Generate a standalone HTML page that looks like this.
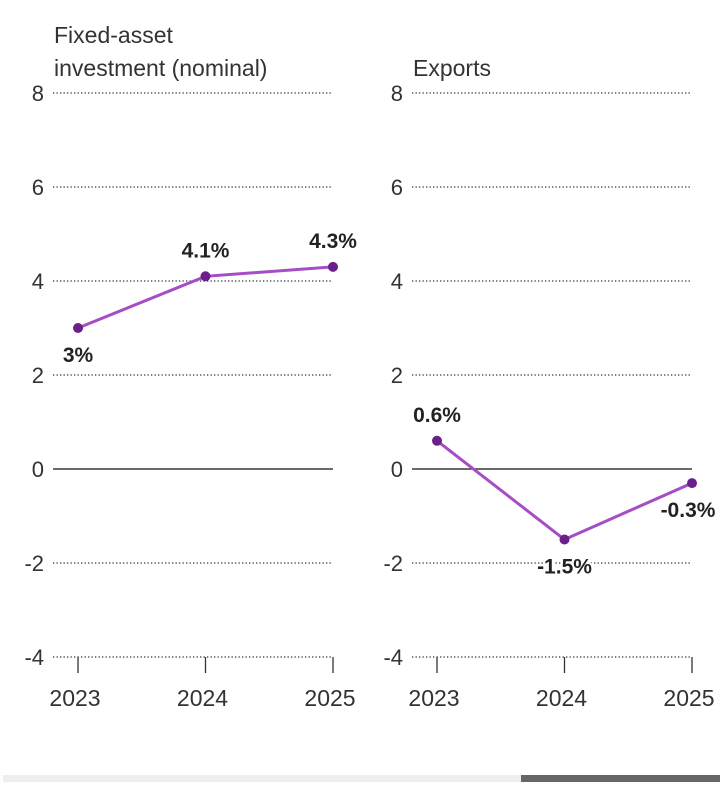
<!DOCTYPE html>
<html><head><meta charset="utf-8">
<style>
body{margin:0;background:#fff;width:721px;height:794px;overflow:hidden;font-family:"Liberation Sans",sans-serif;}
svg{position:absolute;left:0;top:0}
</style></head>
<body>
<svg id="chart" width="721" height="794" xmlns="http://www.w3.org/2000/svg"></svg>
<script>
const years=["2023","2024","2025"];
const yTicks=[8,6,4,2,0,-2,-4];
const investValues=[3,4.1,4.3];
const investLabels=["3%","4.1%","4.3%"];
const exportValues=[0.6,-1.5,-0.3];
const exportLabels=["0.6%","-1.5%","-0.3%"];
const panelTitles=[["Fixed-asset","investment (nominal)"],["Exports"]];

const svg=document.getElementById('chart');
const NS="http://www.w3.org/2000/svg";
function el(t,a,txt){const e=document.createElementNS(NS,t);for(const k in a)e.setAttribute(k,a[k]);if(txt!==undefined)e.textContent=txt;svg.appendChild(e);return e;}
function yScale(v){return 469-v*47;}
const panels=[{x0:53,x1:333,vals:investValues,labs:investLabels,below:[true,false,false],title:panelTitles[0]},
              {x0:412,x1:692,vals:exportValues,labs:exportLabels,below:[false,true,true],title:panelTitles[1]}];
panels.forEach((p,pi)=>{
  const xs=i=>p.x0+25+i*(p.x1-p.x0-25)/2;
  p.title.forEach((t,i)=>{
    const e=el('text',{x:p.x0+1,y:(p.title.length==2?43:76)+i*33,'font-size':23,fill:'#333'},t);
    
    
  });
  yTicks.forEach(v=>{
    const y=yScale(v);
    const l=el('line',{x1:p.x0,x2:p.x1,y1:y,y2:y,stroke:v===0?'#111':'#333','stroke-width':1.3,'stroke-dasharray':v===0?'none':'1.3 2.2'});
    
    
    const t=el('text',{x:p.x0-9,y:y+8,'text-anchor':'end','font-size':22,fill:'#333'},String(v));
    
    
  });
  years.forEach((yr,i)=>{
    const x=xs(i);
    const tk=el('line',{x1:x,x2:x,y1:657,y2:673,stroke:'#333','stroke-width':1.3});
    
    
    const t=el('text',{x:x-3,y:706,'text-anchor':'middle','font-size':23,fill:'#333'},yr);
    
    
  });
  const pts=p.vals.map((v,i)=>xs(i)+','+yScale(v)).join(' ');
  const pl=el('polyline',{points:pts,fill:'none',stroke:'#a64dc5','stroke-width':3});
  
  
  p.vals.forEach((v,i)=>{
    const c=el('circle',{cx:xs(i),cy:yScale(v),r:5,fill:'#6b1f8a'});
    
    
    const ty=p.below[i]?yScale(v)+34:yScale(v)-19;
    const t=el('text',{x:xs(i)+(i==2&&pi==1?-4:0),y:ty,'text-anchor':'middle','font-size':21,'font-weight':'bold',fill:'#222',stroke:'#fff','stroke-width':4,'paint-order':'stroke'},p.labs[i]);
    
    
  });
});
const sb=el('rect',{x:3,y:775,width:717,height:7,fill:'#eeeeee'});


const th=el('rect',{x:521,y:775,width:199,height:7,fill:'#666'});


</script>
</body></html>
